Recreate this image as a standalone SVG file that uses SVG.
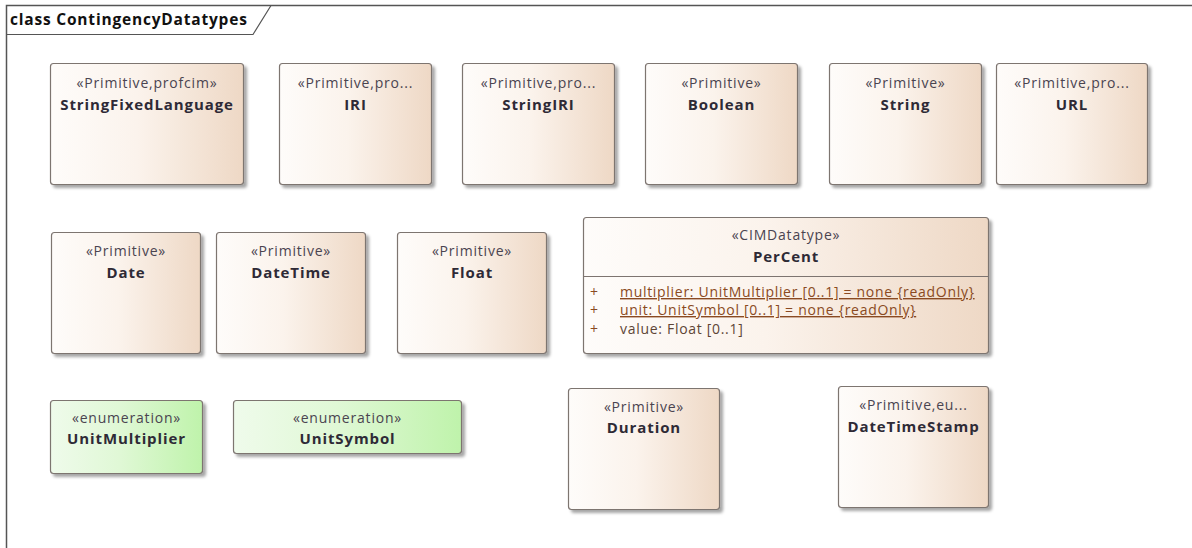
<svg xmlns="http://www.w3.org/2000/svg" width="1192" height="548" viewBox="0 0 1192 548">
<defs>
<linearGradient id="tan" x1="0" y1="0" x2="1" y2="0">
<stop offset="0" stop-color="#fefcfa"/>
<stop offset="0.45" stop-color="#fbf3ec"/>
<stop offset="1" stop-color="#eed8c5"/>
</linearGradient>
<linearGradient id="green" x1="0" y1="0" x2="1" y2="0">
<stop offset="0" stop-color="#effbeb"/>
<stop offset="0.45" stop-color="#e0f8d6"/>
<stop offset="1" stop-color="#bff3ab"/>
</linearGradient>
<filter id="sh" x="-10%" y="-10%" width="130%" height="130%">
<feDropShadow dx="3" dy="3" stdDeviation="1.6" flood-color="#000" flood-opacity="0.35"/>
</filter>
</defs>
<style>
.box{fill:url(#tan);stroke:#7d7470;stroke-width:1.2;filter:url(#sh)}
.gbox{fill:url(#green);stroke:#7d7470;stroke-width:1.2;filter:url(#sh)}
.st{font-family:"Open Sans","Noto Sans",sans-serif;font-size:14px;letter-spacing:0.8px;fill:#4a4450;text-anchor:middle}
.nm{font-family:"Open Sans","Noto Sans",sans-serif;font-size:15px;letter-spacing:0.9px;font-weight:bold;fill:#2e2a36;text-anchor:middle}
.at{font-family:"Open Sans","Noto Sans",sans-serif;font-size:14px;letter-spacing:0.7px;fill:#8a4a22}
.atv{font-family:"Open Sans","Noto Sans",sans-serif;font-size:14px;letter-spacing:0.7px;fill:#5e4536}
.title{font-family:"Open Sans","Noto Sans",sans-serif;font-size:15.5px;letter-spacing:0.8px;font-weight:bold;fill:#111}
</style>
<rect width="1192" height="548" fill="#ffffff"/>
<g id="frame">
<path d="M6.5 548 V5.5 H1192" fill="none" stroke="#555" stroke-width="1.5"/>
<path d="M6.5 34.5 H253 L271 5.5" fill="none" stroke="#555" stroke-width="1.2"/>
<text class="title" x="10" y="25">class ContingencyDatatypes</text>
</g>
<g id="StringFixedLanguage"><rect class="box" x="50.5" y="63.5" width="193" height="121" rx="3"/><text class="st" x="147" y="88">«Primitive,profcim»</text><text class="nm" x="147" y="110">StringFixedLanguage</text></g>
<g id="IRI"><rect class="box" x="279.5" y="63.5" width="152" height="121" rx="3"/><text class="st" x="355.5" y="88">«Primitive,pro...</text><text class="nm" x="355.5" y="110">IRI</text></g>
<g id="StringIRI"><rect class="box" x="462.5" y="63.5" width="152" height="121" rx="3"/><text class="st" x="538.5" y="88">«Primitive,pro...</text><text class="nm" x="538.5" y="110">StringIRI</text></g>
<g id="Boolean"><rect class="box" x="645.5" y="63.5" width="152" height="121" rx="3"/><text class="st" x="721.5" y="88">«Primitive»</text><text class="nm" x="721.5" y="110">Boolean</text></g>
<g id="String"><rect class="box" x="829.5" y="63.5" width="152" height="121" rx="3"/><text class="st" x="905.5" y="88">«Primitive»</text><text class="nm" x="905.5" y="110">String</text></g>
<g id="URL"><rect class="box" x="996.5" y="63.5" width="151" height="121" rx="3"/><text class="st" x="1072" y="88">«Primitive,pro...</text><text class="nm" x="1072" y="110">URL</text></g>
<g id="Date"><rect class="box" x="51.5" y="232.5" width="149" height="121" rx="3"/><text class="st" x="126" y="256">«Primitive»</text><text class="nm" x="126" y="278">Date</text></g>
<g id="DateTime"><rect class="box" x="216.5" y="232.5" width="149" height="121" rx="3"/><text class="st" x="291" y="256">«Primitive»</text><text class="nm" x="291" y="278">DateTime</text></g>
<g id="Float"><rect class="box" x="397.5" y="232.5" width="149" height="121" rx="3"/><text class="st" x="472" y="256">«Primitive»</text><text class="nm" x="472" y="278">Float</text></g>
<g id="PerCent"><rect class="box" x="583.5" y="217.5" width="405" height="136" rx="3"/><line x1="583.5" y1="276.5" x2="988.5" y2="276.5" stroke="#7d7470" stroke-width="1.2"/><text class="st" x="786" y="240">«CIMDatatype»</text><text class="nm" x="786" y="262">PerCent</text>
<text class="at" x="590" y="297">+</text><text class="at" x="620" y="297" text-decoration="underline">multiplier: UnitMultiplier [0..1] = none {readOnly}</text>
<text class="at" x="590" y="315">+</text><text class="at" x="620" y="315" text-decoration="underline">unit: UnitSymbol [0..1] = none {readOnly}</text>
<text class="at" x="590" y="334">+</text><text class="atv" x="620" y="334">value: Float [0..1]</text></g>
<g id="UnitMultiplier"><rect class="gbox" x="50.5" y="400.5" width="152" height="73" rx="3"/><text class="st" x="126.5" y="423">«enumeration»</text><text class="nm" x="126.5" y="444">UnitMultiplier</text></g>
<g id="UnitSymbol"><rect class="gbox" x="233.5" y="400.5" width="228" height="53" rx="3"/><text class="st" x="347.5" y="423">«enumeration»</text><text class="nm" x="347.5" y="444">UnitSymbol</text></g>
<g id="Duration"><rect class="box" x="568.5" y="388.5" width="151" height="121" rx="3"/><text class="st" x="644" y="412">«Primitive»</text><text class="nm" x="644" y="433">Duration</text></g>
<g id="DateTimeStamp"><rect class="box" x="838.5" y="386.5" width="150" height="121" rx="3"/><text class="st" x="913.5" y="410">«Primitive,eu...</text><text class="nm" x="913.5" y="432">DateTimeStamp</text></g>
<g id="connectors"></g>
</svg>
